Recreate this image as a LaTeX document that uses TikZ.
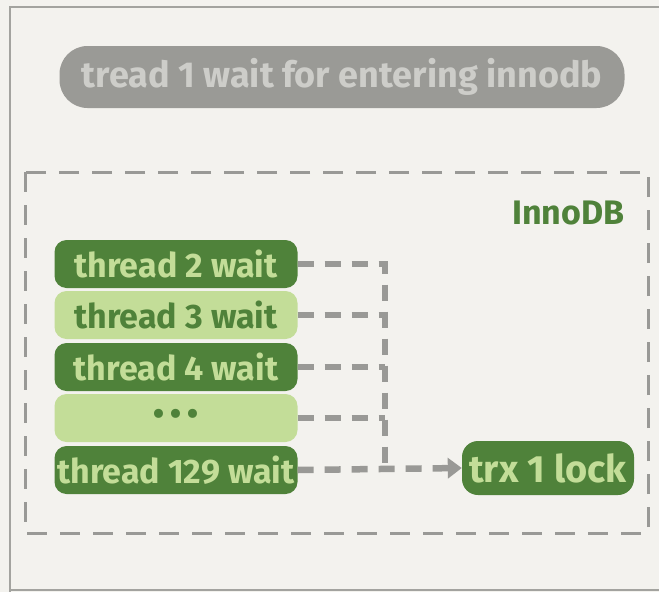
\documentclass[tikz,border=0pt]{standalone}
\usepackage{fontspec}
\setmainfont{Fira Sans}
\usetikzlibrary{arrows.meta}
\definecolor{bg}{HTML}{F3F2EE}
\definecolor{frame}{HTML}{A3A39F}
\definecolor{pillgray}{HTML}{9A9A96}
\definecolor{pilltext}{HTML}{CDCDC9}
\definecolor{dkgreen}{HTML}{4F823A}
\definecolor{ltgreen}{HTML}{C3DD98}
\definecolor{dashgray}{HTML}{999996}
\begin{document}
\begin{tikzpicture}[x=1pt,y=-1pt,
  darkbox/.style={draw=none,fill=dkgreen,text=ltgreen,rounded corners=12pt,minimum width=243pt,minimum height=48pt,font=\bfseries\fontsize{34}{38}\selectfont,inner sep=0pt},
  lightbox/.style={draw=none,fill=ltgreen,text=dkgreen,rounded corners=12pt,minimum width=243pt,minimum height=48pt,font=\bfseries\fontsize{34}{38}\selectfont,inner sep=0pt},
  conn/.style={draw=dashgray,line width=6.5pt,dash pattern=on 16pt off 11pt},
  boxdash/.style={draw=dashgray,line width=3pt,dash pattern=on 20pt off 13pt}]
\fill[bg] (0,0) rectangle (659,592);
\useasboundingbox (0,0) rectangle (659,592);
% outer frame
\draw[frame,line width=2.5pt] (659,7) -- (10,7) -- (10,592);
\draw[frame,line width=2pt] (10,590) -- (659,590);
% pill
\node[fill=pillgray,text=pilltext,rounded corners=28pt,minimum width=565pt,minimum height=62pt,inner sep=0pt,font=\bfseries\fontsize{36}{40}\selectfont] (pill) at (342,77) {tread 1 wait for entering innodb};
% dashed InnoDB box
\draw[boxdash] (25,172) rectangle (648,533);
\node[text=dkgreen,font=\bfseries\fontsize{34}{38}\selectfont,anchor=east] (inno) at (628,213) {InnoDB};
% threads
\node[darkbox] (t2) at (176,264) {thread 2 wait};
\node[lightbox] (t3) at (176,315) {thread 3 wait};
\node[darkbox] (t4) at (176,367) {thread 4 wait};
\node[lightbox,font=\fontsize{40}{42}\selectfont] (t5) at (176,418) {•\hspace{4pt}•\hspace{4pt}•};
\node[darkbox] (t129) at (176,470) {thread 129 wait};
\node[fill=dkgreen,text=ltgreen,rounded corners=16pt,minimum width=172pt,minimum height=54pt,inner sep=0pt,font=\bfseries\fontsize{38}{42}\selectfont] (trx) at (548,468) {trx 1 lock};
\coordinate (j) at (385,470);
\coordinate (jt) at (385,264);
% connectors
\draw[conn] (t2.east) -- (jt) -- (j);
\draw[conn] (t3.east) -- (t3.east -| j);
\draw[conn] (t4.east) -- (t4.east -| j);
\draw[conn] (t5.east) -- (t5.east -| j);
\draw[conn,-{Triangle[length=14pt,width=20pt]}] (t129.east) -- (trx.west);
\end{tikzpicture}
\end{document}
